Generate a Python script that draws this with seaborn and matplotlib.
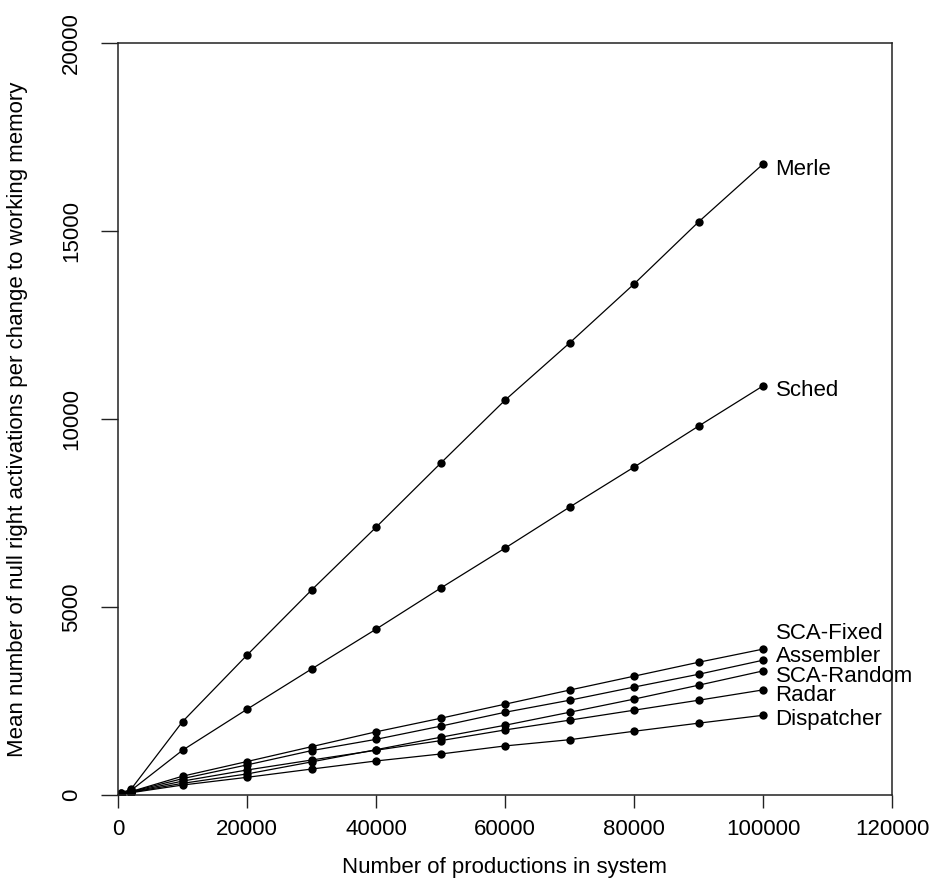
import pandas as pd
import matplotlib
matplotlib.use("Agg")
import matplotlib.pyplot as plt
import seaborn as sns

# Number of productions in the system (x values)
productions = [500, 2000, 10000, 20000, 30000, 40000, 50000, 60000, 70000, 80000, 90000, 100000]

# Mean null right activations per change
merle = [60, 150, 1950, 3720, 5450, 7120, 8820, 10500, 12020, 13590, 15240, 16780]
sched = [50, 120, 1190, 2280, 3350, 4410, 5500, 6565, 7655, 8720, 9810, 10880]
sca_fixed = [30, 90, 500, 890, 1285, 1680, 2040, 2415, 2790, 3160, 3530, 3880]
assembler = [30, 85, 435, 800, 1180, 1480, 1830, 2200, 2520, 2870, 3210, 3585]
sca_random = [25, 70, 310, 560, 880, 1205, 1535, 1855, 2200, 2550, 2920, 3300]
radar = [25, 75, 370, 665, 930, 1190, 1445, 1730, 1990, 2255, 2520, 2795]
dispatcher = [20, 60, 265, 470, 690, 905, 1090, 1305, 1470, 1695, 1910, 2120]

series_names = ["Merle", "Sched", "SCA-Fixed", "Assembler", "SCA-Random", "Radar", "Dispatcher"]
series_values = [merle, sched, sca_fixed, assembler, sca_random, radar, dispatcher]

# Long format table for seaborn
rows = []
for name, vals in zip(series_names, series_values):
    for x, v in zip(productions, vals):
        rows.append({"system": name, "productions": x, "activations": v})
df = pd.DataFrame(rows)

sns.set_theme(style="white")
plt.rcParams["font.family"] = ["Liberation Sans", "DejaVu Sans"]
plt.rcParams["font.size"] = 16
plt.rcParams["text.color"] = "black"

fig = plt.figure(figsize=(9.32, 8.84), dpi=100)
ax = fig.add_axes([118 / 932, 1 - 795 / 884, 774 / 932, 752 / 884])

sns.lineplot(
    data=df, x="productions", y="activations", hue="system",
    palette={n: "black" for n in series_names},
    marker="o", markersize=6, markeredgewidth=0, linewidth=0.9,
    legend=False, ax=ax,
)

# label each series just right of its last point (offsets in points)
label_offsets = {"Merle": -4, "Sched": -3, "SCA-Fixed": 11, "Assembler": 3,
                 "SCA-Random": -4, "Radar": -4, "Dispatcher": -3}
for name, vals in zip(series_names, series_values):
    ax.annotate(name, (productions[-1], vals[-1]), xytext=(9, label_offsets[name]),
                textcoords="offset points", ha="left", va="center",
                fontsize=16, color="black")

ax.set_xlim(0, 120000)
ax.set_ylim(0, 20000)
ax.set_xticks(range(0, 120001, 20000))
ax.set_yticks(range(0, 20001, 5000))
ax.set_xlabel("")
ax.set_ylabel("")

for s in ax.spines.values():
    s.set_color("#222222")
    s.set_linewidth(1.1)

ax.tick_params(axis="x", direction="out", length=9.5, width=1, color="#222222",
               pad=8, labelsize=16, labelcolor="black", bottom=True)
ax.tick_params(axis="y", direction="out", length=12, width=1, color="#222222",
               pad=14, labelsize=16, labelcolor="black", left=True, labelrotation=90)
for lab in ax.get_yticklabels():
    lab.set_va("center")

fig.text(504 / 932, 1 - 867 / 884, "Number of productions in system",
         ha="center", va="center", fontsize=16, color="black")
fig.text(18 / 932, 1 - 419 / 884,
         "Mean number of null right activations per change to working memory",
         ha="center", va="center", rotation=90, fontsize=16, color="black")

fig.savefig("out.png", dpi=100)
